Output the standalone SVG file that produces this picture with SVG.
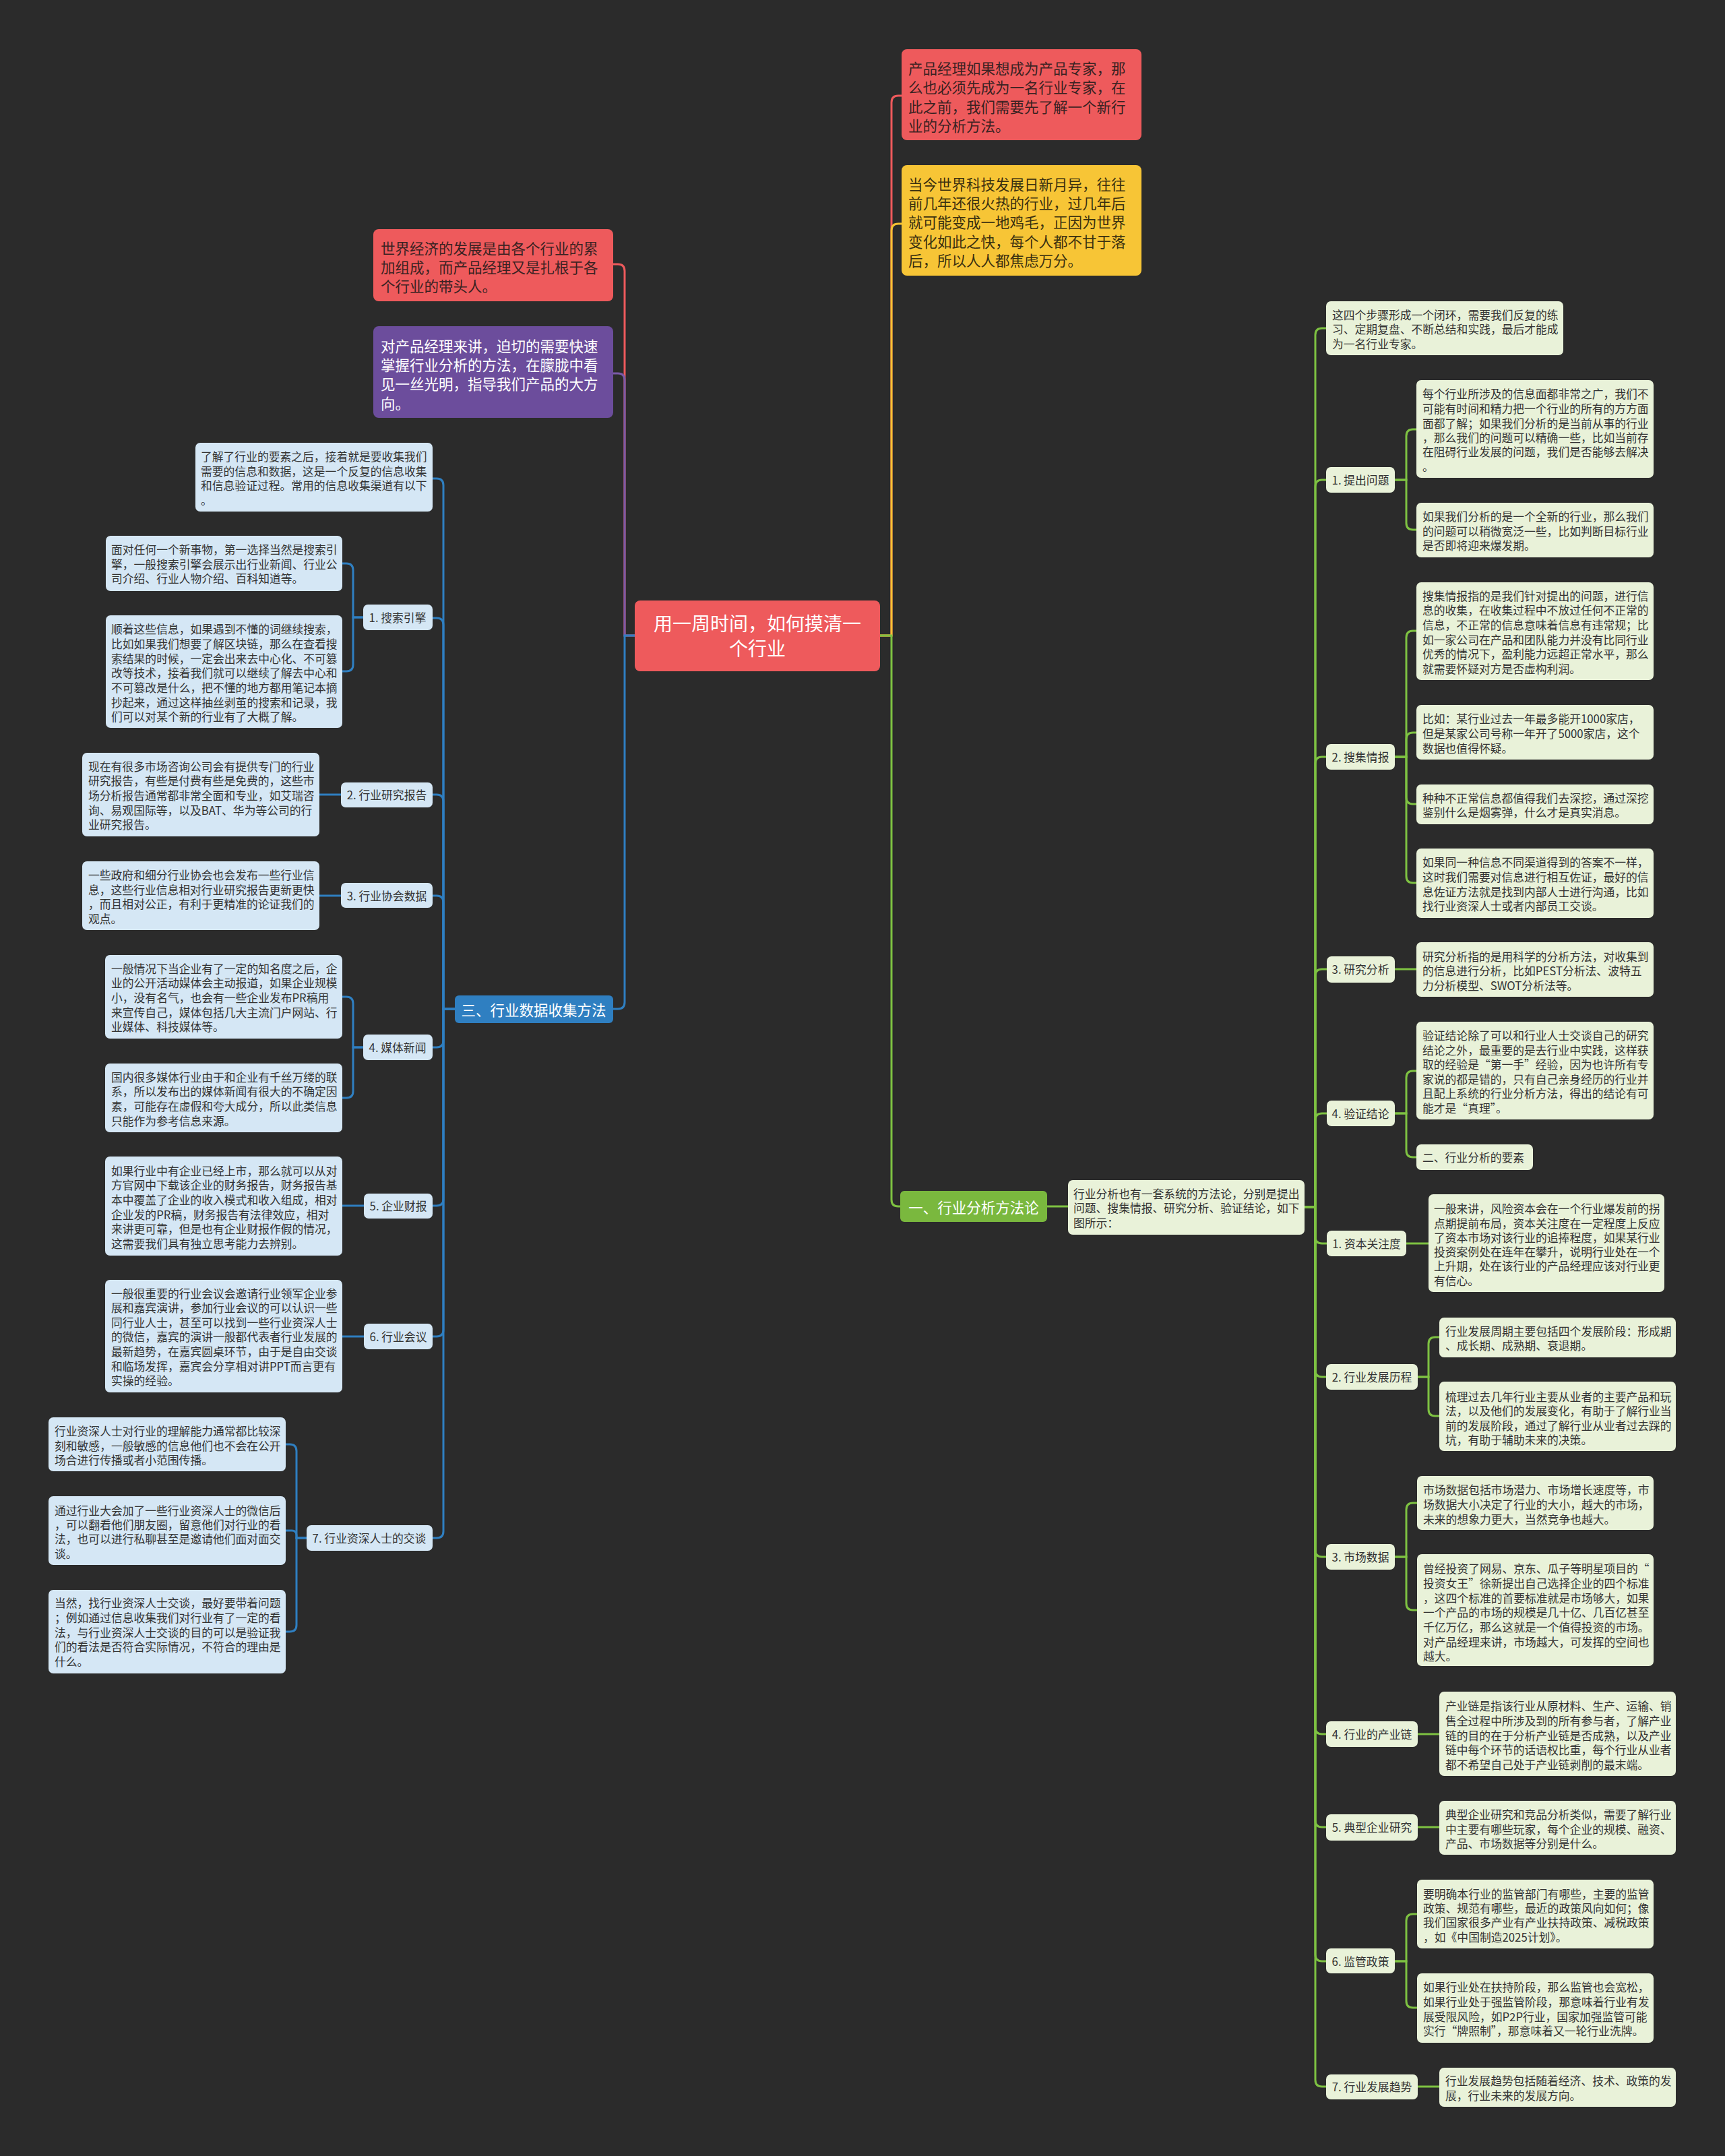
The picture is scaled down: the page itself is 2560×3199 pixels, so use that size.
<svg xmlns="http://www.w3.org/2000/svg" width="2560" height="3199" viewBox="0 0 2560 3199">
<style>
text{font-family:"Noto Sans CJK SC","Noto Sans",sans-serif;dominant-baseline:central}
.t{font-size:16.8px;fill:#333}
.tb{font-size:21.5px}
.bl{fill:#d5e7f5}
.gl{fill:#e9f2d9}
.lb{text-anchor:middle}
.cb{fill:none;stroke:#2f7fc1;stroke-width:3}
.cg{fill:none;stroke:#7ec242;stroke-width:3}
</style>
<rect width="2560" height="3199" fill="#2b2b2b"/>
<g id="connectors">
<path d="M1306,943 H1323 V152 Q1323,142 1333,142 H1338" fill="none" stroke="#ee5a5c" stroke-width="3"/>
<path d="M1306,943 H1323 V342 Q1323,332 1333,332 H1338" fill="none" stroke="#f5c232" stroke-width="3"/>
<path d="M1306,943 H1323 V1780 Q1323,1790 1333,1790 H1336" fill="none" stroke="#7ec242" stroke-width="3"/>
<path d="M942,943 H927 V402 Q927,392 917,392 H910" fill="none" stroke="#ee5a5c" stroke-width="3"/>
<path d="M942,943 H927 V564 Q927,554 917,554 H910" fill="none" stroke="#7a5aa8" stroke-width="3"/>
<path d="M942,943 H927 V1487 Q927,1497 917,1497 H910" fill="none" stroke="#2f7fc1" stroke-width="3"/>
<g class="cb">
<path d="M675,1497 H658 V720 Q658,710 648,710 H642"/>
<path d="M675,1497 H658 V927 Q658,917 648,917 H642"/>
<path d="M675,1497 H658 V1189 Q658,1179 648,1179 H642"/>
<path d="M675,1497 H658 V1339 Q658,1329 648,1329 H642"/>
<path d="M675,1497 H658 V1544 Q658,1554 648,1554 H642"/>
<path d="M675,1497 H658 V1779 Q658,1789 648,1789 H642"/>
<path d="M675,1497 H658 V1973 Q658,1983 648,1983 H642"/>
<path d="M675,1497 H658 V2272 Q658,2282 648,2282 H642"/>
<path d="M539,916 H524 V846 Q524,836 514,836 H508"/>
<path d="M539,916 H524 V986 Q524,996 514,996 H508"/>
<path d="M506,1179 H474"/>
<path d="M506,1329 H474"/>
<path d="M539,1554 H524 V1489 Q524,1479 514,1479 H508"/>
<path d="M539,1554 H524 V1619 Q524,1629 514,1629 H508"/>
<path d="M540,1789 H508"/>
<path d="M540,1983 H508"/>
<path d="M455,2282 H440 V2153 Q440,2143 430,2143 H424"/>
<path d="M455,2282 H440 V2278 Q440,2271 433,2271 H424"/>
<path d="M455,2282 H440 V2411 Q440,2421 430,2421 H424"/>
</g>
<g class="cg">
<path d="M1554,1790 H1585"/>
<path d="M1936,1791 H1952 V497 Q1952,487 1962,487 H1968"/>
<path d="M1936,1791 H1952 V722 Q1952,712 1962,712 H1968"/>
<path d="M1936,1791 H1952 V1133 Q1952,1123 1962,1123 H1968"/>
<path d="M1936,1791 H1952 V1448 Q1952,1438 1962,1438 H1969"/>
<path d="M1936,1791 H1952 V1662 Q1952,1652 1962,1652 H1969"/>
<path d="M1936,1791 H1952 V1835 Q1952,1845 1962,1845 H1969"/>
<path d="M1936,1791 H1952 V2033 Q1952,2043 1962,2043 H1968"/>
<path d="M1936,1791 H1952 V2300 Q1952,2310 1962,2310 H1968"/>
<path d="M1936,1791 H1952 V2563 Q1952,2573 1962,2573 H1968"/>
<path d="M1936,1791 H1952 V2701 Q1952,2711 1962,2711 H1968"/>
<path d="M1936,1791 H1952 V2900 Q1952,2910 1962,2910 H1968"/>
<path d="M1936,1791 H1952 V3086 Q1952,3096 1962,3096 H1968"/>
<path d="M2070,712 H2087 V647 Q2087,637 2097,637 H2102"/>
<path d="M2070,712 H2087 V776 Q2087,786 2097,786 H2102"/>
<path d="M2070,1123 H2087 V946 Q2087,936 2097,936 H2102"/>
<path d="M2070,1123 H2087 V1097 Q2087,1087 2097,1087 H2102"/>
<path d="M2070,1123 H2087 V1183 Q2087,1193 2097,1193 H2102"/>
<path d="M2070,1123 H2087 V1300 Q2087,1310 2097,1310 H2102"/>
<path d="M2070,1438 H2102"/>
<path d="M2070,1652 H2087 V1599 Q2087,1589 2097,1589 H2102"/>
<path d="M2070,1652 H2087 V1707 Q2087,1717 2097,1717 H2102"/>
<path d="M2087,1845 H2120"/>
<path d="M2104,2043 H2120 V1994 Q2120,1984 2130,1984 H2136"/>
<path d="M2104,2043 H2120 V2091 Q2120,2101 2130,2101 H2136"/>
<path d="M2070,2310 H2087 V2240 Q2087,2230 2097,2230 H2103"/>
<path d="M2070,2310 H2087 V2379 Q2087,2389 2097,2389 H2103"/>
<path d="M2104,2573 H2136"/>
<path d="M2104,2711 H2136"/>
<path d="M2070,2910 H2087 V2850 Q2087,2840 2097,2840 H2103"/>
<path d="M2070,2910 H2087 V2969 Q2087,2979 2097,2979 H2103"/>
<path d="M2104,3096 H2136"/>
</g>
</g>

<g id="center">
<rect x="942" y="891" width="364" height="105" rx="8" fill="#ee5a5c"/>
<text x="1124" y="924" font-size="28" fill="#fff" text-anchor="middle">用一周时间，如何摸清一</text>
<text x="1124" y="961" font-size="28" fill="#fff" text-anchor="middle">个行业</text>
</g>

<g id="n-red-right">
<rect x="1338" y="73" width="356" height="135" rx="8" fill="#ee5a5c"/>
<text class="tb" fill="#3a2222" x="1348" y="100">产品经理如果想成为产品专家，那</text>
<text class="tb" fill="#3a2222" x="1348" y="128">么也必须先成为一名行业专家，在</text>
<text class="tb" fill="#3a2222" x="1348" y="157">此之前，我们需要先了解一个新行</text>
<text class="tb" fill="#3a2222" x="1348" y="185">业的分析方法。</text>
</g>
<g id="n-yellow">
<rect x="1338" y="245" width="356" height="164" rx="8" fill="#f7c536"/>
<text class="tb" fill="#3a3010" x="1348" y="272">当今世界科技发展日新月异，往往</text>
<text class="tb" fill="#3a3010" x="1348" y="300">前几年还很火热的行业，过几年后</text>
<text class="tb" fill="#3a3010" x="1348" y="328">就可能变成一地鸡毛，正因为世界</text>
<text class="tb" fill="#3a3010" x="1348" y="357">变化如此之快，每个人都不甘于落</text>
<text class="tb" fill="#3a3010" x="1348" y="385">后，所以人人都焦虑万分。</text>
</g>
<g id="n-red-left">
<rect x="554" y="340" width="356" height="107" rx="8" fill="#ee5a5c"/>
<text class="tb" fill="#3a2222" x="565" y="367">世界经济的发展是由各个行业的累</text>
<text class="tb" fill="#3a2222" x="565" y="395">加组成，而产品经理又是扎根于各</text>
<text class="tb" fill="#3a2222" x="565" y="423">个行业的带头人。</text>
</g>
<g id="n-purple">
<rect x="554" y="484" width="356" height="136" rx="8" fill="#6c4d9c"/>
<text class="tb" fill="#fff" x="565" y="512">对产品经理来讲，迫切的需要快速</text>
<text class="tb" fill="#fff" x="565" y="540">掌握行业分析的方法，在朦胧中看</text>
<text class="tb" fill="#fff" x="565" y="568">见一丝光明，指导我们产品的大方</text>
<text class="tb" fill="#fff" x="565" y="597">向。</text>
</g>

<g id="b-main">
<rect x="675" y="1477" width="235" height="41" rx="6" fill="#2f7fc1"/>
<text class="tb lb" fill="#fff" x="792" y="1497">三、行业数据收集方法</text>
</g>
<g id="b-intro">
<rect class="bl" x="290" y="657" width="352" height="102" rx="7"/>
<text class="t" x="298" y="677">了解了行业的要素之后，接着就是要收集我们</text>
<text class="t" x="298" y="699">需要的信息和数据，这是一个反复的信息收集</text>
<text class="t" x="298" y="720">和信息验证过程。常用的信息收集渠道有以下</text>
<text class="t" x="298" y="742">。</text>
</g>
<g id="b1">
<rect class="bl" x="539" y="897" width="103" height="38" rx="7"/>
<text class="t lb" x="590" y="916">1. 搜索引擎</text>
</g>
<g id="b1a">
<rect class="bl" x="157" y="795" width="351" height="82" rx="7"/>
<text class="t" x="165" y="815">面对任何一个新事物，第一选择当然是搜索引</text>
<text class="t" x="165" y="837">擎，一般搜索引擎会展示出行业新闻、行业公</text>
<text class="t" x="165" y="858">司介绍、行业人物介绍、百科知道等。</text>
</g>
<g id="b1b">
<rect class="bl" x="157" y="913" width="351" height="167" rx="7"/>
<text class="t" x="165" y="933">顺着这些信息，如果遇到不懂的词继续搜索，</text>
<text class="t" x="165" y="955">比如如果我们想要了解区块链，那么在查看搜</text>
<text class="t" x="165" y="977">索结果的时候，一定会出来去中心化、不可篡</text>
<text class="t" x="165" y="998">改等技术，接着我们就可以继续了解去中心和</text>
<text class="t" x="165" y="1020">不可篡改是什么，把不懂的地方都用笔记本摘</text>
<text class="t" x="165" y="1042">抄起来，通过这样抽丝剥茧的搜索和记录，我</text>
<text class="t" x="165" y="1063">们可以对某个新的行业有了大概了解。</text>
</g>
<g id="b2">
<rect class="bl" x="506" y="1161" width="136" height="37" rx="7"/>
<text class="t lb" x="574" y="1179">2. 行业研究报告</text>
</g>
<g id="b2a">
<rect class="bl" x="122" y="1117" width="352" height="124" rx="7"/>
<text class="t" x="131" y="1137">现在有很多市场咨询公司会有提供专门的行业</text>
<text class="t" x="131" y="1158">研究报告，有些是付费有些是免费的，这些市</text>
<text class="t" x="131" y="1180">场分析报告通常都非常全面和专业，如艾瑞咨</text>
<text class="t" x="131" y="1202">询、易观国际等，以及BAT、华为等公司的行</text>
<text class="t" x="131" y="1223">业研究报告。</text>
</g>
<g id="b3">
<rect class="bl" x="506" y="1310" width="136" height="37" rx="7"/>
<text class="t lb" x="574" y="1329">3. 行业协会数据</text>
</g>
<g id="b3a">
<rect class="bl" x="122" y="1278" width="352" height="102" rx="7"/>
<text class="t" x="131" y="1298">一些政府和细分行业协会也会发布一些行业信</text>
<text class="t" x="131" y="1320">息，这些行业信息相对行业研究报告更新更快</text>
<text class="t" x="131" y="1341">，而且相对公正，有利于更精准的论证我们的</text>
<text class="t" x="131" y="1363">观点。</text>
</g>
<g id="b4">
<rect class="bl" x="539" y="1535" width="103" height="38" rx="7"/>
<text class="t lb" x="590" y="1554">4. 媒体新闻</text>
</g>
<g id="b4a">
<rect class="bl" x="156" y="1417" width="352" height="124" rx="7"/>
<text class="t" x="165" y="1437">一般情况下当企业有了一定的知名度之后，企</text>
<text class="t" x="165" y="1458">业的公开活动媒体会主动报道，如果企业规模</text>
<text class="t" x="165" y="1480">小，没有名气，也会有一些企业发布PR稿用</text>
<text class="t" x="165" y="1502">来宣传自己，媒体包括几大主流门户网站、行</text>
<text class="t" x="165" y="1523">业媒体、科技媒体等。</text>
</g>
<g id="b4b">
<rect class="bl" x="156" y="1578" width="352" height="102" rx="7"/>
<text class="t" x="165" y="1598">国内很多媒体行业由于和企业有千丝万缕的联</text>
<text class="t" x="165" y="1619">系，所以发布出的媒体新闻有很大的不确定因</text>
<text class="t" x="165" y="1641">素，可能存在虚假和夸大成分，所以此类信息</text>
<text class="t" x="165" y="1663">只能作为参考信息来源。</text>
</g>
<g id="b5">
<rect class="bl" x="540" y="1771" width="102" height="37" rx="7"/>
<text class="t lb" x="591" y="1789">5. 企业财报</text>
</g>
<g id="b5a">
<rect class="bl" x="156" y="1716" width="352" height="147" rx="7"/>
<text class="t" x="165" y="1737">如果行业中有企业已经上市，那么就可以从对</text>
<text class="t" x="165" y="1758">方官网中下载该企业的财务报告，财务报告基</text>
<text class="t" x="165" y="1780">本中覆盖了企业的收入模式和收入组成，相对</text>
<text class="t" x="165" y="1802">企业发的PR稿，财务报告有法律效应，相对</text>
<text class="t" x="165" y="1823">来讲更可靠，但是也有企业财报作假的情况，</text>
<text class="t" x="165" y="1845">这需要我们具有独立思考能力去辨别。</text>
</g>
<g id="b6">
<rect class="bl" x="540" y="1964" width="102" height="38" rx="7"/>
<text class="t lb" x="591" y="1983">6. 行业会议</text>
</g>
<g id="b6a">
<rect class="bl" x="156" y="1899" width="352" height="167" rx="7"/>
<text class="t" x="165" y="1919">一般很重要的行业会议会邀请行业领军企业参</text>
<text class="t" x="165" y="1940">展和嘉宾演讲，参加行业会议的可以认识一些</text>
<text class="t" x="165" y="1962">同行业人士，甚至可以找到一些行业资深人士</text>
<text class="t" x="165" y="1983">的微信，嘉宾的演讲一般都代表者行业发展的</text>
<text class="t" x="165" y="2005">最新趋势，在嘉宾圆桌环节，由于是自由交谈</text>
<text class="t" x="165" y="2027">和临场发挥，嘉宾会分享相对讲PPT而言更有</text>
<text class="t" x="165" y="2048">实操的经验。</text>
</g>
<g id="b7">
<rect class="bl" x="455" y="2263" width="187" height="38" rx="7"/>
<text class="t lb" x="548" y="2282">7. 行业资深人士的交谈</text>
</g>
<g id="b7a">
<rect class="bl" x="72" y="2103" width="352" height="80" rx="7"/>
<text class="t" x="81" y="2123">行业资深人士对行业的理解能力通常都比较深</text>
<text class="t" x="81" y="2145">刻和敏感，一般敏感的信息他们也不会在公开</text>
<text class="t" x="81" y="2166">场合进行传播或者小范围传播。</text>
</g>
<g id="b7b">
<rect class="bl" x="72" y="2220" width="352" height="102" rx="7"/>
<text class="t" x="81" y="2241">通过行业大会加了一些行业资深人士的微信后</text>
<text class="t" x="81" y="2262">，可以翻看他们朋友圈，留意他们对行业的看</text>
<text class="t" x="81" y="2283">法，也可以进行私聊甚至是邀请他们面对面交</text>
<text class="t" x="81" y="2305">谈。</text>
</g>
<g id="b7c">
<rect class="bl" x="72" y="2359" width="352" height="124" rx="7"/>
<text class="t" x="81" y="2378">当然，找行业资深人士交谈，最好要带着问题</text>
<text class="t" x="81" y="2400">；例如通过信息收集我们对行业有了一定的看</text>
<text class="t" x="81" y="2422">法，与行业资深人士交谈的目的可以是验证我</text>
<text class="t" x="81" y="2443">们的看法是否符合实际情况，不符合的理由是</text>
<text class="t" x="81" y="2465">什么。</text>
</g>

<g id="g-main">
<rect x="1336" y="1767" width="218" height="46" rx="6" fill="#7ab83e"/>
<text class="tb lb" fill="#fff" x="1445" y="1790">一、行业分析方法论</text>
</g>
<g id="g-intro">
<rect class="gl" x="1585" y="1751" width="351" height="81" rx="7"/>
<text class="t" x="1593" y="1771">行业分析也有一套系统的方法论，分别是提出</text>
<text class="t" x="1593" y="1792">问题、搜集情报、研究分析、验证结论，如下</text>
<text class="t" x="1593" y="1814">图所示：</text>
</g>
<g id="g0">
<rect class="gl" x="1968" y="447" width="352" height="80" rx="7"/>
<text class="t" x="1977" y="467">这四个步骤形成一个闭环，需要我们反复的练</text>
<text class="t" x="1977" y="488">习、定期复盘、不断总结和实践，最后才能成</text>
<text class="t" x="1977" y="510">为一名行业专家。</text>
</g>
<g id="g1">
<rect class="gl" x="1968" y="693" width="102" height="38" rx="7"/>
<text class="t lb" x="2019" y="712">1. 提出问题</text>
</g>
<g id="g1a">
<rect class="gl" x="2102" y="564" width="352" height="145" rx="7"/>
<text class="t" x="2111" y="584">每个行业所涉及的信息面都非常之广，我们不</text>
<text class="t" x="2111" y="606">可能有时间和精力把一个行业的所有的方方面</text>
<text class="t" x="2111" y="628">面都了解；如果我们分析的是当前从事的行业</text>
<text class="t" x="2111" y="649">，那么我们的问题可以精确一些，比如当前存</text>
<text class="t" x="2111" y="670">在阻碍行业发展的问题，我们是否能够去解决</text>
<text class="t" x="2111" y="692">。</text>
</g>
<g id="g1b">
<rect class="gl" x="2102" y="746" width="352" height="81" rx="7"/>
<text class="t" x="2111" y="766">如果我们分析的是一个全新的行业，那么我们</text>
<text class="t" x="2111" y="788">的问题可以稍微宽泛一些，比如判断目标行业</text>
<text class="t" x="2111" y="809">是否即将迎来爆发期。</text>
</g>
<g id="g2">
<rect class="gl" x="1968" y="1104" width="102" height="38" rx="7"/>
<text class="t lb" x="2019" y="1123">2. 搜集情报</text>
</g>
<g id="g2a">
<rect class="gl" x="2102" y="864" width="352" height="145" rx="7"/>
<text class="t" x="2111" y="884">搜集情报指的是我们针对提出的问题，进行信</text>
<text class="t" x="2111" y="905">息的收集，在收集过程中不放过任何不正常的</text>
<text class="t" x="2111" y="927">信息，不正常的信息意味着信息有违常规；比</text>
<text class="t" x="2111" y="949">如一家公司在产品和团队能力并没有比同行业</text>
<text class="t" x="2111" y="970">优秀的情况下，盈利能力远超正常水平，那么</text>
<text class="t" x="2111" y="992">就需要怀疑对方是否虚构利润。</text>
</g>
<g id="g2b">
<rect class="gl" x="2102" y="1046" width="352" height="81" rx="7"/>
<text class="t" x="2111" y="1066">比如：某行业过去一年最多能开1000家店，</text>
<text class="t" x="2111" y="1088">但是某家公司号称一年开了5000家店，这个</text>
<text class="t" x="2111" y="1110">数据也值得怀疑。</text>
</g>
<g id="g2c">
<rect class="gl" x="2102" y="1164" width="352" height="59" rx="7"/>
<text class="t" x="2111" y="1184">种种不正常信息都值得我们去深挖，通过深挖</text>
<text class="t" x="2111" y="1205">鉴别什么是烟雾弹，什么才是真实消息。</text>
</g>
<g id="g2d">
<rect class="gl" x="2102" y="1259" width="352" height="103" rx="7"/>
<text class="t" x="2111" y="1279">如果同一种信息不同渠道得到的答案不一样，</text>
<text class="t" x="2111" y="1301">这时我们需要对信息进行相互佐证，最好的信</text>
<text class="t" x="2111" y="1323">息佐证方法就是找到内部人士进行沟通，比如</text>
<text class="t" x="2111" y="1344">找行业资深人士或者内部员工交谈。</text>
</g>
<g id="g3">
<rect class="gl" x="1969" y="1419" width="101" height="39" rx="7"/>
<text class="t lb" x="2019" y="1438">3. 研究分析</text>
</g>
<g id="g3a">
<rect class="gl" x="2102" y="1398" width="352" height="81" rx="7"/>
<text class="t" x="2111" y="1419">研究分析指的是用科学的分析方法，对收集到</text>
<text class="t" x="2111" y="1440">的信息进行分析，比如PEST分析法、波特五</text>
<text class="t" x="2111" y="1462">力分析模型、SWOT分析法等。</text>
</g>
<g id="g4">
<rect class="gl" x="1969" y="1633" width="101" height="38" rx="7"/>
<text class="t lb" x="2019" y="1652">4. 验证结论</text>
</g>
<g id="g4a">
<rect class="gl" x="2102" y="1516" width="352" height="145" rx="7"/>
<text class="t" x="2111" y="1536">验证结论除了可以和行业人士交谈自己的研究</text>
<text class="t" x="2111" y="1558">结论之外，最重要的是去行业中实践，这样获</text>
<text class="t" x="2111" y="1579">取的经验是“第一手”经验，因为也许所有专</text>
<text class="t" x="2111" y="1601">家说的都是错的，只有自己亲身经历的行业并</text>
<text class="t" x="2111" y="1622">且配上系统的行业分析方法，得出的结论有可</text>
<text class="t" x="2111" y="1644">能才是“真理”。</text>
</g>
<g id="g4b">
<rect class="gl" x="2102" y="1698" width="173" height="38" rx="7"/>
<text class="t" x="2111" y="1717">二、行业分析的要素</text>
</g>
<g id="e1">
<rect class="gl" x="1969" y="1826" width="118" height="38" rx="7"/>
<text class="t lb" x="2028" y="1845">1. 资本关注度</text>
</g>
<g id="e1a">
<rect class="gl" x="2120" y="1772" width="350" height="145" rx="7"/>
<text class="t" x="2128" y="1793">一般来讲，风险资本会在一个行业爆发前的拐</text>
<text class="t" x="2128" y="1815">点期提前布局，资本关注度在一定程度上反应</text>
<text class="t" x="2128" y="1836">了资本市场对该行业的追捧程度，如果某行业</text>
<text class="t" x="2128" y="1857">投资案例处在连年在攀升，说明行业处在一个</text>
<text class="t" x="2128" y="1878">上升期，处在该行业的产品经理应该对行业更</text>
<text class="t" x="2128" y="1900">有信心。</text>
</g>
<g id="e2">
<rect class="gl" x="1968" y="2024" width="136" height="38" rx="7"/>
<text class="t lb" x="2036" y="2043">2. 行业发展历程</text>
</g>
<g id="e2a">
<rect class="gl" x="2136" y="1955" width="351" height="59" rx="7"/>
<text class="t" x="2145" y="1975">行业发展周期主要包括四个发展阶段：形成期</text>
<text class="t" x="2145" y="1996">、成长期、成熟期、衰退期。</text>
</g>
<g id="e2b">
<rect class="gl" x="2136" y="2050" width="351" height="103" rx="7"/>
<text class="t" x="2145" y="2072">梳理过去几年行业主要从业者的主要产品和玩</text>
<text class="t" x="2145" y="2093">法，以及他们的发展变化，有助于了解行业当</text>
<text class="t" x="2145" y="2115">前的发展阶段，通过了解行业从业者过去踩的</text>
<text class="t" x="2145" y="2136">坑，有助于辅助未来的决策。</text>
</g>
<g id="e3">
<rect class="gl" x="1968" y="2291" width="102" height="38" rx="7"/>
<text class="t lb" x="2019" y="2310">3. 市场数据</text>
</g>
<g id="e3a">
<rect class="gl" x="2103" y="2190" width="351" height="80" rx="7"/>
<text class="t" x="2112" y="2210">市场数据包括市场潜力、市场增长速度等，市</text>
<text class="t" x="2112" y="2232">场数据大小决定了行业的大小，越大的市场，</text>
<text class="t" x="2112" y="2254">未来的想象力更大，当然竞争也越大。</text>
</g>
<g id="e3b">
<rect class="gl" x="2103" y="2306" width="351" height="166" rx="7"/>
<text class="t" x="2112" y="2327">曾经投资了网易、京东、瓜子等明星项目的“</text>
<text class="t" x="2112" y="2349">投资女王”徐新提出自己选择企业的四个标准</text>
<text class="t" x="2112" y="2371">，这四个标准的首要标准就是市场够大，如果</text>
<text class="t" x="2112" y="2392">一个产品的市场的规模是几十亿、几百亿甚至</text>
<text class="t" x="2112" y="2414">千亿万亿，那么这就是一个值得投资的市场。</text>
<text class="t" x="2112" y="2436">对产品经理来讲，市场越大，可发挥的空间也</text>
<text class="t" x="2112" y="2457">越大。</text>
</g>
<g id="e4">
<rect class="gl" x="1968" y="2554" width="136" height="38" rx="7"/>
<text class="t lb" x="2036" y="2573">4. 行业的产业链</text>
</g>
<g id="e4a">
<rect class="gl" x="2136" y="2510" width="351" height="125" rx="7"/>
<text class="t" x="2145" y="2531">产业链是指该行业从原材料、生产、运输、销</text>
<text class="t" x="2145" y="2553">售全过程中所涉及到的所有参与者，了解产业</text>
<text class="t" x="2145" y="2575">链的目的在于分析产业链是否成熟，以及产业</text>
<text class="t" x="2145" y="2596">链中每个环节的话语权比重，每个行业从业者</text>
<text class="t" x="2145" y="2618">都不希望自己处于产业链剥削的最末端。</text>
</g>
<g id="e5">
<rect class="gl" x="1968" y="2692" width="136" height="39" rx="7"/>
<text class="t lb" x="2036" y="2711">5. 典型企业研究</text>
</g>
<g id="e5a">
<rect class="gl" x="2136" y="2672" width="351" height="80" rx="7"/>
<text class="t" x="2145" y="2692">典型企业研究和竞品分析类似，需要了解行业</text>
<text class="t" x="2145" y="2714">中主要有哪些玩家，每个企业的规模、融资、</text>
<text class="t" x="2145" y="2735">产品、市场数据等分别是什么。</text>
</g>
<g id="e6">
<rect class="gl" x="1968" y="2891" width="102" height="37" rx="7"/>
<text class="t lb" x="2019" y="2910">6. 监管政策</text>
</g>
<g id="e6a">
<rect class="gl" x="2103" y="2789" width="351" height="102" rx="7"/>
<text class="t" x="2112" y="2810">要明确本行业的监管部门有哪些，主要的监管</text>
<text class="t" x="2112" y="2831">政策、规范有哪些，最近的政策风向如何；像</text>
<text class="t" x="2112" y="2852">我们国家很多产业有产业扶持政策、减税政策</text>
<text class="t" x="2112" y="2874">，如《中国制造2025计划》。</text>
</g>
<g id="e6b">
<rect class="gl" x="2103" y="2928" width="351" height="103" rx="7"/>
<text class="t" x="2112" y="2948">如果行业处在扶持阶段，那么监管也会宽松，</text>
<text class="t" x="2112" y="2970">如果行业处于强监管阶段，那意味着行业有发</text>
<text class="t" x="2112" y="2992">展受限风险，如P2P行业，国家加强监管可能</text>
<text class="t" x="2112" y="3013">实行“牌照制”，那意味着又一轮行业洗牌。</text>
</g>
<g id="e7">
<rect class="gl" x="1968" y="3078" width="136" height="37" rx="7"/>
<text class="t lb" x="2036" y="3096">7. 行业发展趋势</text>
</g>
<g id="e7a">
<rect class="gl" x="2136" y="3068" width="351" height="58" rx="7"/>
<text class="t" x="2145" y="3087">行业发展趋势包括随着经济、技术、政策的发</text>
<text class="t" x="2145" y="3109">展，行业未来的发展方向。</text>
</g>
</svg>
